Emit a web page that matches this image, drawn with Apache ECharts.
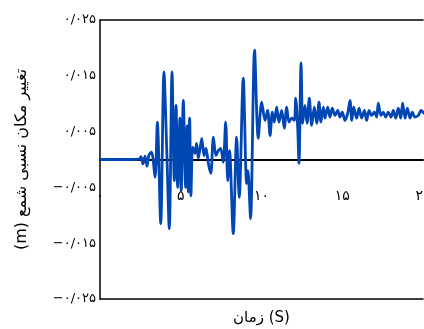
<!DOCTYPE html>
<html>
<head>
<meta charset="utf-8">
<script src="https://cdn.jsdelivr.net/npm/echarts@6/dist/echarts.min.js"></script>
<style>html,body{margin:0;padding:0;background:#fff;}#c{width:424px;height:329px;}</style>
</head>
<body>
<div id="c"></div>
<script>
// Time (s)
const time = [0, 2.0, 2.45, 2.54, 2.66, 2.79, 2.91, 3.03, 3.19, 3.41, 3.55, 3.76, 3.96, 4.13, 4.29, 4.46, 4.60, 4.71, 4.81, 4.95, 5.03, 5.16, 5.30, 5.40, 5.47, 5.55, 5.63, 5.74, 5.88, 5.98, 6.09, 6.30, 6.44, 6.56, 6.71, 6.86, 7.02, 7.18, 7.33, 7.47, 7.63, 7.78, 7.91, 8.02, 8.25, 8.46, 8.62, 8.87, 9.08, 9.16, 9.32, 9.57, 9.80, 10.01, 10.22, 10.38, 10.53, 10.67, 10.79, 10.94, 11.08, 11.25, 11.41, 11.56, 11.70, 11.87, 12.03, 12.12, 12.24, 12.32, 12.45, 12.55, 12.69, 12.82, 12.96, 13.11, 13.27, 13.42, 13.56, 13.68, 13.83, 13.93, 14.10, 14.24, 14.38, 14.55, 14.72, 14.86, 15.00, 15.17, 15.34, 15.48, 15.59, 15.71, 15.89, 16.04, 16.20, 16.37, 16.51, 16.66, 16.82, 16.99, 17.13, 17.23, 17.40, 17.54, 17.69, 17.85, 18.02, 18.16, 18.31, 18.47, 18.62, 18.74, 18.89, 19.03, 19.20, 19.34, 19.50, 19.71, 19.88, 20.06, 20.3];
// Relative pile displacement (m)
const displacement = [0, 0, 0.0001, 0.0005, -0.0008, 0.0006, -0.0012, 0.0008, 0.0013, -0.0032, 0.0067, -0.0115, 0.0157, 0.0020, -0.0124, 0.0157, -0.0038, 0.0097, -0.0050, 0.0074, -0.0056, 0.0106, -0.0050, 0.0060, -0.0058, 0.0074, -0.0065, 0.0022, 0.0011, 0.0029, 0.0002, 0.0038, 0.0007, 0.0020, -0.0007, -0.0025, 0.0040, 0.0007, 0.0016, 0.0020, -0.0005, 0.0067, -0.0038, 0.0016, -0.0133, 0.0040, -0.0068, 0.0146, -0.0043, -0.0020, -0.0106, 0.0196, 0.0038, 0.0103, 0.0070, 0.0088, 0.0043, 0.0085, 0.0067, 0.0094, 0.0067, 0.0088, 0.0056, 0.0094, 0.0067, 0.0074, 0.0070, 0.0110, 0.0058, -0.0007, 0.0173, 0.0065, 0.0097, 0.0065, 0.0110, 0.0061, 0.0094, 0.0065, 0.0103, 0.0067, 0.0094, 0.0074, 0.0094, 0.0076, 0.0092, 0.0079, 0.0088, 0.0076, 0.0085, 0.0070, 0.0083, 0.0106, 0.0070, 0.0094, 0.0074, 0.0092, 0.0074, 0.0088, 0.0070, 0.0088, 0.0079, 0.0085, 0.0076, 0.0101, 0.0079, 0.0085, 0.0076, 0.0085, 0.0076, 0.0088, 0.0074, 0.0092, 0.0074, 0.0101, 0.0074, 0.0092, 0.0074, 0.0085, 0.0076, 0.0079, 0.0088, 0.0083, 0.0080];

const xTickValues = [0, 5, 10, 15, 20];
const xTickLabels = ['۰', '۵', '۱۰', '۱۵', '۲۰'];
const yTickValues = [-0.025, -0.015, -0.005, 0.005, 0.015, 0.025];
const yTickLabels = ['−۰/۰۲۵', '−۰/۰۱۵', '−۰/۰۰۵', '۰/۰۰۵', '۰/۰۱۵', '۰/۰۲۵'];
const xName = 'زمان (S)';
// unit written first so that it ends up at the bottom of the rotated (LTR canvas) label, as in the original
const yName = '(m) تغییر مکان نسبی شمع';

function lookup(vals, labels, v) {
  for (let i = 0; i < vals.length; i++) if (Math.abs(vals[i] - v) < 1e-9) return labels[i];
  return '';
}

const font = "'DejaVu Sans', 'Noto Sans', sans-serif";
const chart = echarts.init(document.getElementById('c'), null, {renderer: 'canvas'});
chart.setOption({
  animation: false,
  backgroundColor: '#fff',
  grid: {left: 100, right: 1, top: 20, bottom: 30, containLabel: false, outerBoundsMode: 'none'},
  xAxis: [
    { // zero line
      type: 'value', position: 'bottom', min: 0, max: 20, interval: 5,
      axisLine: {show: true, onZero: true, lineStyle: {color: '#000', width: 2}},
      axisTick: {show: false}, splitLine: {show: false}, axisLabel: {show: false}
    },
    { // top frame
      type: 'value', position: 'top', min: 0, max: 20, interval: 5,
      axisLine: {show: true, onZero: false, lineStyle: {color: '#000', width: 1.5}},
      axisTick: {show: false}, axisLabel: {show: false}, splitLine: {show: false}
    },
    { // bottom frame with tick labels and name
      type: 'value', position: 'bottom', min: 0, max: 20, interval: 5,
      axisLine: {show: true, onZero: false, lineStyle: {color: '#000', width: 1.5}},
      axisTick: {show: false}, splitLine: {show: false},
      axisLabel: {show: true, margin: -110, color: '#000', fontSize: 14, fontFamily: font,
        showMinLabel: true, showMaxLabel: true, hideOverlap: false,
        formatter: v => lookup(xTickValues, xTickLabels, v)},
      name: xName, nameLocation: 'middle', nameGap: 12,
      nameTextStyle: {color: '#000', fontSize: 15, fontFamily: font}
    }
  ],
  yAxis: {
    type: 'value', min: -0.025, max: 0.025, interval: 0.005,
    axisLine: {show: true, onZero: false, lineStyle: {color: '#000', width: 1.5}},
    axisTick: {show: false}, splitLine: {show: false},
    axisLabel: {margin: 4, color: '#000', fontSize: 13, fontFamily: font,
      formatter: v => lookup(yTickValues, yTickLabels, v)},
    name: yName, nameLocation: 'middle', nameGap: 70, nameRotate: 90,
    nameTextStyle: {color: '#000', fontSize: 16, fontFamily: font}
  },
  series: [{
    type: 'line', xAxisIndex: 0,
    data: time.map((t, i) => [t, displacement[i]]),
    showSymbol: false, smooth: 0.3, clip: true,
    lineStyle: {color: '#0047b3', width: 2.8}
  }]
});
</script>
</body>
</html>
